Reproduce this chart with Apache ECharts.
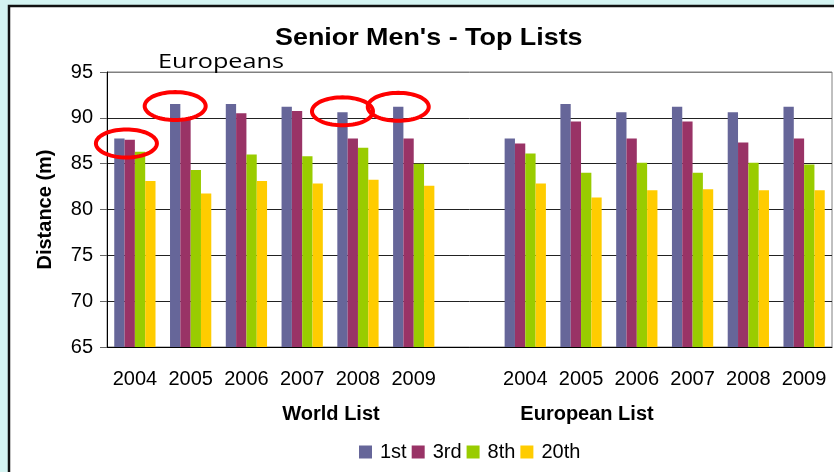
<!DOCTYPE html>
<html><head><meta charset="utf-8">
<script src="https://cdn.jsdelivr.net/npm/echarts@6/dist/echarts.min.js"></script>
<style>html,body{margin:0;padding:0;background:#d4f4f2}#c{width:834px;height:472px}</style>
</head><body><div id="c"></div>
<script>
// ---- data ----
const categories = ['2004','2005','2006','2007','2008','2009','','2004','2005','2006','2007','2008','2009'];
const groupLabels = ['World List','European List'];
const seriesNames = ['1st','3rd','8th','20th'];
const first     = [87.75, 91.5, 91.5, 91.2, 90.6, 91.2, null, 87.75, 91.5, 90.6, 91.2, 90.6, 91.2];
const third     = [87.6, 89.9, 90.5, 90.75, 87.75, 87.75, null, 87.2, 89.6, 87.75, 89.6, 87.3, 87.75];
const eighth    = [86.3, 84.3, 86.0, 85.8, 86.75, 85.0, null, 86.1, 84.0, 85.1, 84.0, 85.1, 84.9];
const twentieth = [83.1, 81.75, 83.1, 82.85, 83.25, 82.6, null, 82.85, 81.3, 82.1, 82.2, 82.1, 82.1];
const yMin = 65, yMax = 95, yStep = 5;
const titleText = "Senior Men's - Top Lists";
const noteText = 'Europeans';
const yName = 'Distance (m)';
// highlighted "1st" bars (category index) ringed in red
const highlighted = [0, 1, 4, 5];

// ---- styling ----
const colors = ['#666699', '#993366', '#99cc00', '#ffcc00'];
const FONT = 'Liberation Sans, Arial, sans-serif';
const FS = 20;
const ringOffsets = [[7, 5], [0, 2], [0, -1], [0, 0]];

const chart = echarts.init(document.getElementById('c'), null, {renderer: 'canvas'});
const values = [first, third, eighth, twentieth];

const option = {
  backgroundColor: '#d4f4f2',
  animation: false,
  color: colors,
  legend: {
    data: seriesNames, left: 354, top: 437, icon: 'rect', itemWidth: 13, itemHeight: 13, itemGap: 5,
    textStyle: {fontFamily: FONT, fontSize: FS, color: '#000', padding: [0, 0, 0, 3]}
  },
  grid: {left: 107, right: 2, top: 72, bottom: 125, show: true, borderColor: '#808080', borderWidth: 1, backgroundColor: '#fff'},
  xAxis: {
    type: 'category', data: categories,
    axisLine: {lineStyle: {color: '#000', width: 1}},
    axisTick: {interval: 0, length: 7, lineStyle: {color: '#666'}},
    axisLabel: {interval: 0, margin: 22, fontFamily: FONT, fontSize: FS, color: '#000'}
  },
  yAxis: {
    type: 'value', min: yMin, max: yMax, interval: yStep,
    name: yName, nameLocation: 'middle', nameGap: 52, nameRotate: 90,
    nameTextStyle: {fontFamily: FONT, fontSize: FS, fontWeight: 'bold', color: '#000'},
    axisLine: {show: true, lineStyle: {color: '#000'}},
    axisTick: {show: true, length: 7, lineStyle: {color: '#666'}},
    axisLabel: {margin: 14, fontFamily: FONT, fontSize: FS, color: '#000'},
    splitLine: {lineStyle: {color: ['#000', '#222', '#222', '#222', '#222', '#222', '#808080'], width: 1}}
  },
  series: seriesNames.map((n, i) => ({
    name: n, type: 'bar', data: values[i], barGap: '0%', barCategoryGap: '26%',
    itemStyle: {color: colors[i]}
  })),
  graphic: []
};
chart.setOption(option);

// after layout: place annotations from axis scales
const c0 = chart.convertToPixel({xAxisIndex: 0}, 0);
const c1 = chart.convertToPixel({xAxisIndex: 0}, 1);
const slot = c1 - c0;
const barW = slot * (1 - 0.26) / 4;
const els = [];
els.push({type: 'rect', z: -100, shape: {x: 9, y: 6, width: 900, height: 600},
  style: {fill: '#fff', stroke: '#111', lineWidth: 2.5}, silent: true});
highlighted.forEach((cat, k) => {
  const cx = chart.convertToPixel({xAxisIndex: 0}, cat) - 1.5 * barW + ringOffsets[k][0];
  const cy = chart.convertToPixel({yAxisIndex: 0}, first[cat]) + ringOffsets[k][1];
  const pts = [];
  for (let t = 0; t < 72; t++) {
    const a = t / 72 * Math.PI * 2;
    pts.push([cx + 30.5 * Math.cos(a), cy + 14 * Math.sin(a)]);
  }
  els.push({type: 'polygon', z: 100, shape: {points: pts}, style: {fill: 'none', stroke: '#ff0000', lineWidth: 4}, silent: true});
});
els.push({type: 'text', z: 100, x: 275, y: 38, scaleX: 1.12, style: {text: titleText, fontFamily: FONT, fontSize: 24, fontWeight: 'bold', fill: '#000', align: 'left', verticalAlign: 'middle'}});
els.push({type: 'text', z: 100, x: 331, y: 414, style: {text: groupLabels[0], fontFamily: FONT, fontSize: FS, fontWeight: 'bold', fill: '#000', align: 'center', verticalAlign: 'middle'}});
els.push({type: 'text', z: 100, x: 587, y: 414, style: {text: groupLabels[1], fontFamily: FONT, fontSize: FS, fontWeight: 'bold', fill: '#000', align: 'center', verticalAlign: 'middle'}});
els.push({type: 'text', z: 100, x: 158, y: 62, scaleX: 1.26, style: {text: noteText, fontFamily: 'Open Sans', fontSize: 20, fill: '#000', align: 'left', verticalAlign: 'middle'}});
chart.setOption({graphic: {elements: els}});
</script>
</body></html>
